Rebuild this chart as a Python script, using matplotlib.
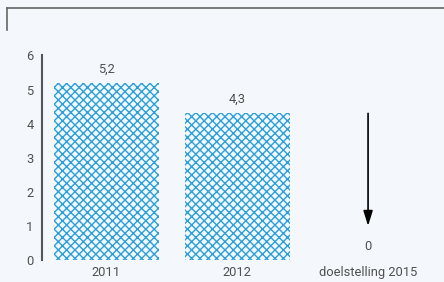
import matplotlib
matplotlib.use("Agg")
import matplotlib.pyplot as plt
from matplotlib.lines import Line2D

categories = ["2011", "2012", "doelstelling 2015"]
values = [5.2, 4.3, 0.0]
value_labels = ["5,2", "4,3", "0"]
yticks = [0, 1, 2, 3, 4, 5, 6]
arrow_from = 4.3
arrow_to = 1.0

plt.rcParams['font.family'] = ['Roboto', 'DejaVu Sans']
plt.rcParams['hatch.linewidth'] = 1.0

bg = "#f4f7fb"
txt = "#505050"
blue = "#2a9fd8"
fs = 9.3

fig = plt.figure(figsize=(4.44, 2.82), dpi=100, facecolor=bg)
ax = fig.add_axes([42/444, 1-260/282, 398/444, (260-55.4)/282])
ax.set_facecolor(bg)

x = list(range(len(categories)))
bars = ax.bar(x[:2], values[:2], width=0.8, color=bg, edgecolor=blue,
              hatch="xxxx", linewidth=0)

for xi, v, lab in zip(x, values, value_labels):
    ax.annotate(lab, (xi, v), xytext=(0, 10), textcoords="offset points",
                ha="center", va="center", color=txt, fontsize=fs)

ax.annotate("", xy=(2, arrow_to), xytext=(2, arrow_from),
            arrowprops=dict(arrowstyle="-|>,head_length=0.9,head_width=0.28",
                            color="black", lw=1.2, shrinkA=0, shrinkB=0))

ax.set_xlim(-0.493, 2.55)
ax.set_ylim(0, 6)
ax.set_xticks(x)
ax.set_xticklabels(categories)
ax.set_yticks(yticks)
ax.tick_params(axis="both", length=0, colors=txt, labelsize=fs)
ax.tick_params(axis="y", pad=6)
ax.tick_params(axis="x", pad=4)
for s in ["top", "right", "bottom"]:
    ax.spines[s].set_visible(False)
ax.spines["left"].set_color("#555555")
ax.spines["left"].set_linewidth(1.5)

fig.add_artist(Line2D([7/444, 1.0], [1-8/282, 1-8/282], color="#666666", lw=1.2,
                      transform=fig.transFigure))
fig.add_artist(Line2D([7/444, 7/444], [1-8/282, 1-30/282], color="#666666", lw=1.2,
                      transform=fig.transFigure))

fig.savefig("out.png", dpi=100, facecolor=bg)
